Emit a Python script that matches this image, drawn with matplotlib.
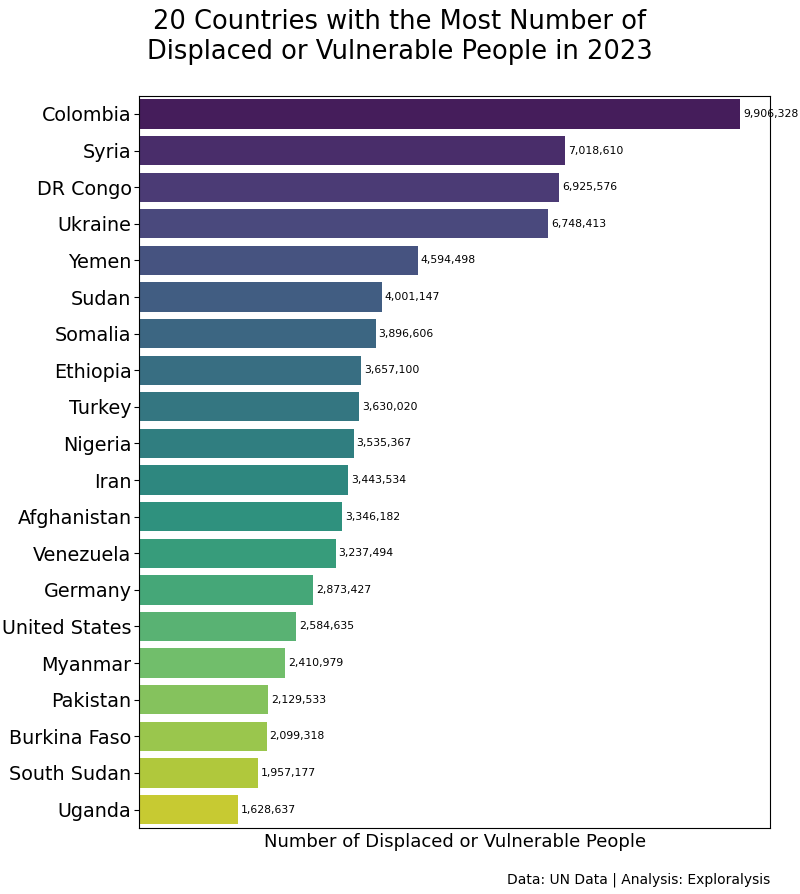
import matplotlib
matplotlib.use("Agg")
import matplotlib.pyplot as plt
import seaborn as sns

countries = ["Colombia","Syria","DR Congo","Ukraine","Yemen","Sudan","Somalia","Ethiopia","Turkey","Nigeria",
             "Iran","Afghanistan","Venezuela","Germany","United States","Myanmar","Pakistan","Burkina Faso","South Sudan","Uganda"]
values = [9906328,7018610,6925576,6748413,4594498,4001147,3896606,3657100,3630020,3535367,
          3443534,3346182,3237494,2873427,2584635,2410979,2129533,2099318,1957177,1628637]

fig = plt.figure(figsize=(8, 8.94), dpi=100)
ax = fig.add_axes([0.174, 0.074, 0.7885, 0.819])
sns.barplot(x=values, y=countries, hue=countries, palette="viridis", legend=False, ax=ax)
ax.set_xlim(0, max(values) * 1.05)
for i, v in enumerate(values):
    ax.text(v + 50000, i, f"{v:,}", va="center", ha="left", fontsize=7.8)
ax.set_xticks([])
ax.set_ylabel("")
ax.set_xlabel("Number of Displaced or Vulnerable People", fontsize=13)
ax.tick_params(axis="y", labelsize=13.8, pad=2)
fig.suptitle("20 Countries with the Most Number of\nDisplaced or Vulnerable People in 2023", fontsize=18.5, y=0.99)
fig.text(0.963, 0.008, "Data: UN Data | Analysis: Exploralysis", ha="right", va="bottom", fontsize=10)
fig.savefig("out.png", dpi=100)
